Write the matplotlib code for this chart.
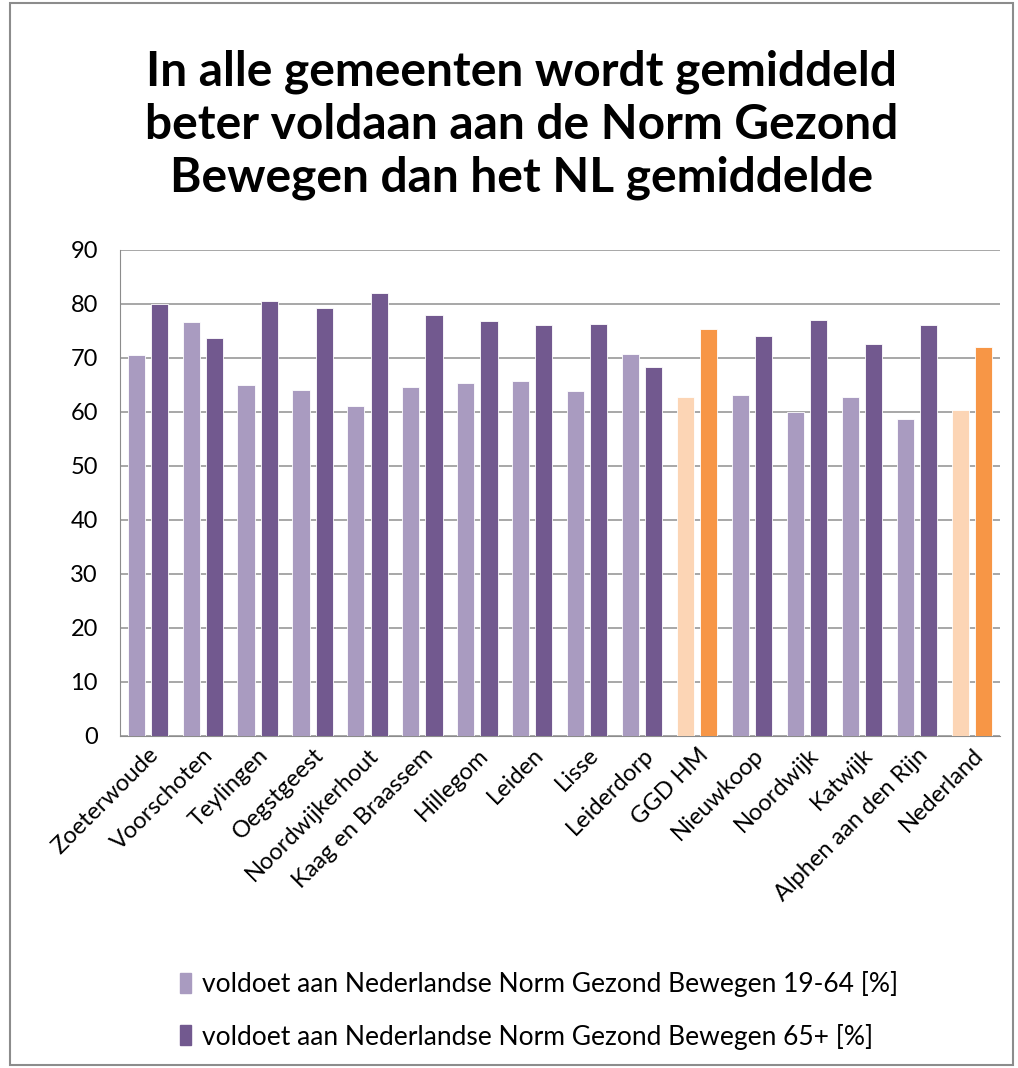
import numpy as np
import matplotlib.pyplot as plt
from matplotlib.patches import Patch, Rectangle

# --------------------------
# Data
# --------------------------
gemeenten = ["Zoeterwoude", "Voorschoten", "Teylingen", "Oegstgeest", "Noordwijkerhout",
             "Kaag en Braassem", "Hillegom", "Leiden", "Lisse", "Leiderdorp", "GGD HM",
             "Nieuwkoop", "Noordwijk", "Katwijk", "Alphen aan den Rijn", "Nederland"]
norm_19_64 = [70.6, 76.6, 64.9, 64.1, 61.1, 64.6, 65.3, 65.8, 63.9, 70.8, 62.7,
              63.1, 60.0, 62.7, 58.6, 60.3]
norm_65plus = [80.0, 73.6, 80.5, 79.3, 82.1, 77.9, 76.8, 76.1, 76.3, 68.4, 75.3,
               74.1, 77.1, 72.6, 76.1, 72.1]
highlight = ["GGD HM", "Nederland"]

label_19_64 = "voldoet aan Nederlandse Norm Gezond Bewegen 19-64 [%]"
label_65plus = "voldoet aan Nederlandse Norm Gezond Bewegen 65+ [%]"
titel = "In alle gemeenten wordt gemiddeld\nbeter voldaan aan de Norm Gezond\nBewegen dan het NL gemiddelde"

# colours
light_purple = "#A99BC0"
dark_purple = "#72598F"
light_orange = "#FCD5B5"
orange = "#F79646"

plt.rcParams['font.family'] = ['Lato', 'DejaVu Sans']

fig = plt.figure(figsize=(10.18, 10.68), dpi=100)
ax = fig.add_axes([0.118, 0.311, 0.864, 0.455])

x = np.arange(len(gemeenten))
w = 0.31
c1 = [light_orange if g in highlight else light_purple for g in gemeenten]
c2 = [orange if g in highlight else dark_purple for g in gemeenten]
ax.bar(x - 0.21, norm_19_64, w, color=c1, edgecolor="white", linewidth=0.6, zorder=3)
ax.bar(x + 0.21, norm_65plus, w, color=c2, edgecolor="white", linewidth=0.6, zorder=3)

ax.set_xlim(-0.5, len(gemeenten) - 0.5)
ax.set_ylim(0, 90)
ax.set_yticks(range(0, 91, 10))
ax.yaxis.grid(True, color="#A0A0A0", linewidth=1.3, zorder=0)
ax.set_axisbelow(True)
for s in ["top", "right"]:
    ax.spines[s].set_visible(False)
ax.spines["left"].set_color("#8C8C8C")
ax.spines["bottom"].set_color("#8C8C8C")
ax.tick_params(axis="y", length=0, labelsize=17, pad=16)
ax.tick_params(axis="x", length=0, labelsize=17, pad=6)
ax.set_xticks(x)
ax.set_xticklabels(gemeenten, rotation=45, ha="right", rotation_mode="anchor")

fig.text(0.512, 0.883, titel, ha="center", va="center", fontsize=34.5,
         fontweight="bold", linespacing=1.25)

handles = [Patch(color=light_purple), Patch(color=dark_purple)]
fig.legend(handles, [label_19_64, label_65plus], loc="center left",
           bbox_to_anchor=(0.153, 0.054), frameon=False, fontsize=19,
           handlelength=0.45, handleheight=0.8, handletextpad=0.4, labelspacing=1.0)

fig.patches.append(Rectangle((0.01, 0.003), 0.985, 0.994, transform=fig.transFigure,
                             fill=False, edgecolor="#8C8C8C", linewidth=1.5))

fig.savefig("out.png", dpi=100)
